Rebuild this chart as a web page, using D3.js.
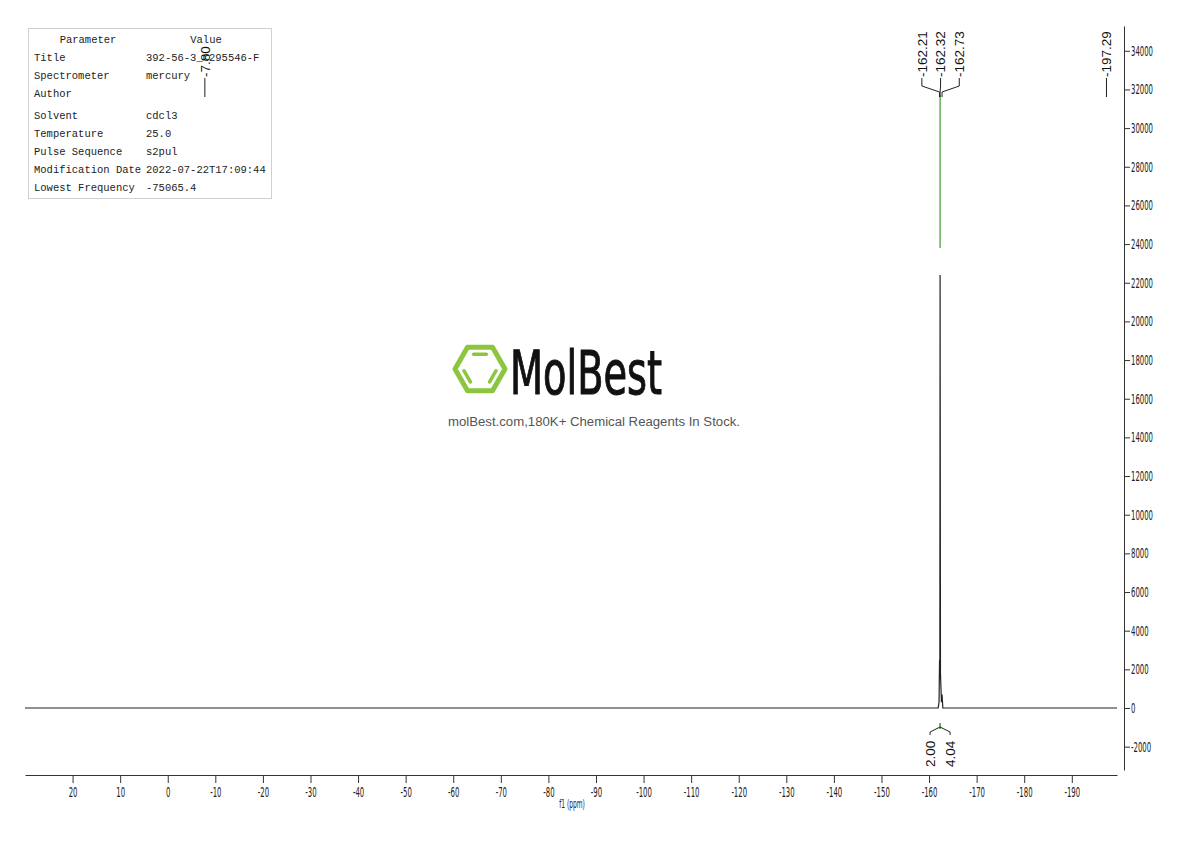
<!DOCTYPE html>
<html>
<head>
<meta charset="utf-8">
<script src="https://cdn.jsdelivr.net/npm/d3@7"></script>
<style>
  body { margin: 0; background: #fff; }
  svg { display: block; }
</style>
</head>
<body>
<div id="chart"></div>
<script>
// spectrum points (ppm, intensity)
const shifts    = [30, -161.9, -162.10, -162.21, -162.27, -162.32, -162.40, -162.60, -162.73, -162.90, -199.5];
const intensity = [0,  0,      300,     2500,    1500,    22400,   1800,    300,     700,     0,       0];

// picked peaks
const peakLabels = [-7.80, -162.21, -162.32, -162.73, -197.29];
const peakTop = [-162.32, 23800, 31700];   // ppm, green marker from / to

// integral
const integralCenter = -162.32;
const integralValues = ["2.00", "4.04"];

// axis ticks
const xTicks = d3.range(20, -191, -10);
const xMinor = d3.range(25, -196, -5);
const yTicks = d3.range(-2000, 34001, 2000);
const yMinor = d3.range(-3000, 35001, 1000);

// parameter table
const paramNames  = ["Title", "Spectrometer", "Author", "Solvent", "Temperature", "Pulse Sequence", "Modification Date", "Lowest Frequency"];
const paramValues = ["392-56-3_C295546-F", "mercury", "", "cdcl3", "25.0", "s2pul", "2022-07-22T17:09:44", "-75065.4"];

const W = 1190, H = 841;
const svg = d3.select("#chart").append("svg")
    .attr("width", W)
    .attr("height", H);

const x = d3.scaleLinear().domain([30, -199.5]).range([25, 1117]);
const y = d3.scaleLinear().domain([-3207, 35282]).range([770, 26]);

const condensed = "'DejaVu Sans Condensed', 'DejaVu Sans', sans-serif";
const sx = 0.55; // squeeze for the narrow tick font

// ---- bottom axis
const gx = svg.append("g").attr("transform", "translate(0,775)");
gx.call(d3.axisBottom(x).tickValues(xMinor).tickSize(4).tickFormat(""))
gx.call(d3.axisBottom(x).tickValues(xTicks).tickSize(8).tickSizeOuter(0)
    .tickFormat(d => String(d)))
gx.selectAll("path.domain").attr("stroke", "#333")
gx.selectAll("line").attr("stroke", "#333")
gx.selectAll("text")
    .attr("y", 12)
    .attr("font-size", 14)
    .attr("font-family", condensed)
    .attr("fill", "#222")
    .attr("transform", `scale(${sx},1)`)

svg.append("text")
    .attr("transform", `translate(572,808) scale(${sx},1)`)
    .attr("text-anchor", "middle")
    .attr("font-size", 12)
    .attr("font-family", condensed)
    .attr("fill", "#222")
    .text("f1 (ppm)")

// ---- right axis
const gy = svg.append("g").attr("transform", "translate(1124,0)");
gy.call(d3.axisRight(y).tickValues(yMinor).tickSize(3).tickFormat("").tickSizeOuter(0))
gy.call(d3.axisRight(y).tickValues(yTicks).tickSize(6).tickSizeOuter(0)
    .tickFormat(d => String(d)))
gy.selectAll("path.domain").attr("stroke", "#333")
gy.selectAll("line").attr("stroke", "#333")
gy.selectAll("text")
    .attr("x", 7 / sx)
    .attr("font-size", 14)
    .attr("font-family", condensed)
    .attr("fill", "#222")
    .attr("transform", `scale(${sx},1)`)

// ---- spectrum
const line = d3.line()
    .x((d, i) => x(shifts[i]))
    .y(d => y(d));

svg.append("path")
    .datum(intensity)
    .attr("d", line)
    .attr("fill", "none")
    .attr("stroke", "#222")
    .attr("stroke-width", 1.2)

svg.append("line")
    .attr("x1", x(peakTop[0])).attr("x2", x(peakTop[0]))
    .attr("y1", y(peakTop[1])).attr("y2", y(peakTop[2]))
    .attr("stroke", "#3a9a2a")
    .attr("stroke-width", 1.2)

// ---- parameter table
const table = svg.append("g");
table.append("rect")
    .attr("x", 28.5).attr("y", 28.5)
    .attr("width", 243).attr("height", 170)
    .attr("fill", "#fff")
    .attr("stroke", "#d0d0d0")

const mono = "'Liberation Mono', 'Courier New', monospace";
table.append("text").attr("x", 88).attr("y", 43).attr("text-anchor", "middle")
    .attr("font-family", mono).attr("font-size", 10.5).attr("fill", "#222").text("Parameter")
table.append("text").attr("x", 206).attr("y", 43).attr("text-anchor", "middle")
    .attr("font-family", mono).attr("font-size", 10.5).attr("fill", "#222").text("Value")

const rowY = [61, 79, 97, 119, 137, 155, 173, 191];
paramNames.forEach((p, i) => {
    table.append("text").attr("x", 34).attr("y", rowY[i])
        .attr("font-family", mono).attr("font-size", 10.5).attr("fill", "#222").text(p)
    table.append("text").attr("x", 146).attr("y", rowY[i])
        .attr("font-family", mono).attr("font-size", 10.5).attr("fill", "#222").text(paramValues[i])
})

// ---- peak labels
const sans = "'Liberation Sans', Arial, sans-serif";
const groupTol = 1.0;
const groups = [];
peakLabels.forEach(p => {
    const g = groups.find(gr => Math.abs(gr[0] - p) < groupTol);
    if (g) g.push(p); else groups.push([p]);
})
const lab = svg.append("g");
groups.forEach(g => {
    const cx = d3.mean(g, p => x(p));
    const step = 18.7;
    g.forEach((p, i) => {
        const lx = cx + (i - (g.length - 1) / 2) * step;
        const px = x(p);
        lab.append("text")
            .attr("transform", `translate(${lx},77) rotate(-90)`)
            .attr("dy", "0.36em")
            .attr("font-family", sans)
            .attr("font-size", 13.5)
            .attr("fill", "#111")
            .text(p.toFixed(2))
        lab.append("path")
            .attr("d", `M${lx},${78}V${86}L${px},${92}V${97}`)
            .attr("fill", "none")
            .attr("stroke", "#222")
            .attr("stroke-width", 1)
    })
})

// ---- integral
const ix = x(integralCenter);
svg.append("line")
    .attr("x1", ix).attr("x2", ix).attr("y1", 723).attr("y2", 729)
    .attr("stroke", "#3a9a2a").attr("stroke-width", 1.5)
svg.append("path")
    .attr("d", `M${ix - 10},735V732L${ix},727L${ix + 10},732V735`)
    .attr("fill", "none").attr("stroke", "#222").attr("stroke-width", 1)
integralValues.forEach((v, i) => {
    const lx = ix + (i - 0.5) * 20;
    svg.append("text")
        .attr("transform", `translate(${lx},767) rotate(-90)`)
        .attr("dy", "0.36em")
        .attr("font-family", sans)
        .attr("font-size", 13.5)
        .attr("fill", "#111")
        .text(v)
})

// ---- watermark
const wm = svg.append("g");
const hx = 480, hy = 369, hr = 25;
const hex = d3.range(6).map(k => [hx + hr * Math.cos(k * Math.PI / 3), hy + hr * Math.sin(k * Math.PI / 3)]);
wm.append("polygon")
    .attr("points", hex.map(p => p.join(",")).join(" "))
    .attr("fill", "none").attr("stroke", "#8cc63f").attr("stroke-width", 5)
    .attr("stroke-linejoin", "round")
// inner bonds: top, lower-left, lower-right edges
const inner = d3.range(6).map(k => [hx + 17 * Math.cos(k * Math.PI / 3), hy + 17 * Math.sin(k * Math.PI / 3)]);
[[4, 5], [2, 3], [0, 1]].forEach(([a, b]) => {
    const p = inner[a], q = inner[b];
    const mx = (p[0] + q[0]) / 2, my = (p[1] + q[1]) / 2;
    wm.append("line")
        .attr("x1", mx + (p[0] - mx) * 0.75).attr("y1", my + (p[1] - my) * 0.75)
        .attr("x2", mx + (q[0] - mx) * 0.75).attr("y2", my + (q[1] - my) * 0.75)
        .attr("stroke", "#8cc63f").attr("stroke-width", 3.5).attr("stroke-linecap", "round")
})
wm.append("text")
    .attr("x", 510).attr("y", 394)
    .attr("textLength", 152).attr("lengthAdjust", "spacingAndGlyphs")
    .attr("font-family", condensed)
    .attr("font-size", 60)
    .attr("fill", "#111")
    .attr("stroke", "#111")
    .attr("stroke-width", 1)
    .text("MolBest")
wm.append("text")
    .attr("x", 448).attr("y", 426)
    .attr("textLength", 292).attr("lengthAdjust", "spacingAndGlyphs")
    .attr("font-family", sans)
    .attr("font-size", 12.5)
    .attr("fill", "#555")
    .text("molBest.com,180K+ Chemical Reagents In Stock.")
</script>
</body>
</html>
